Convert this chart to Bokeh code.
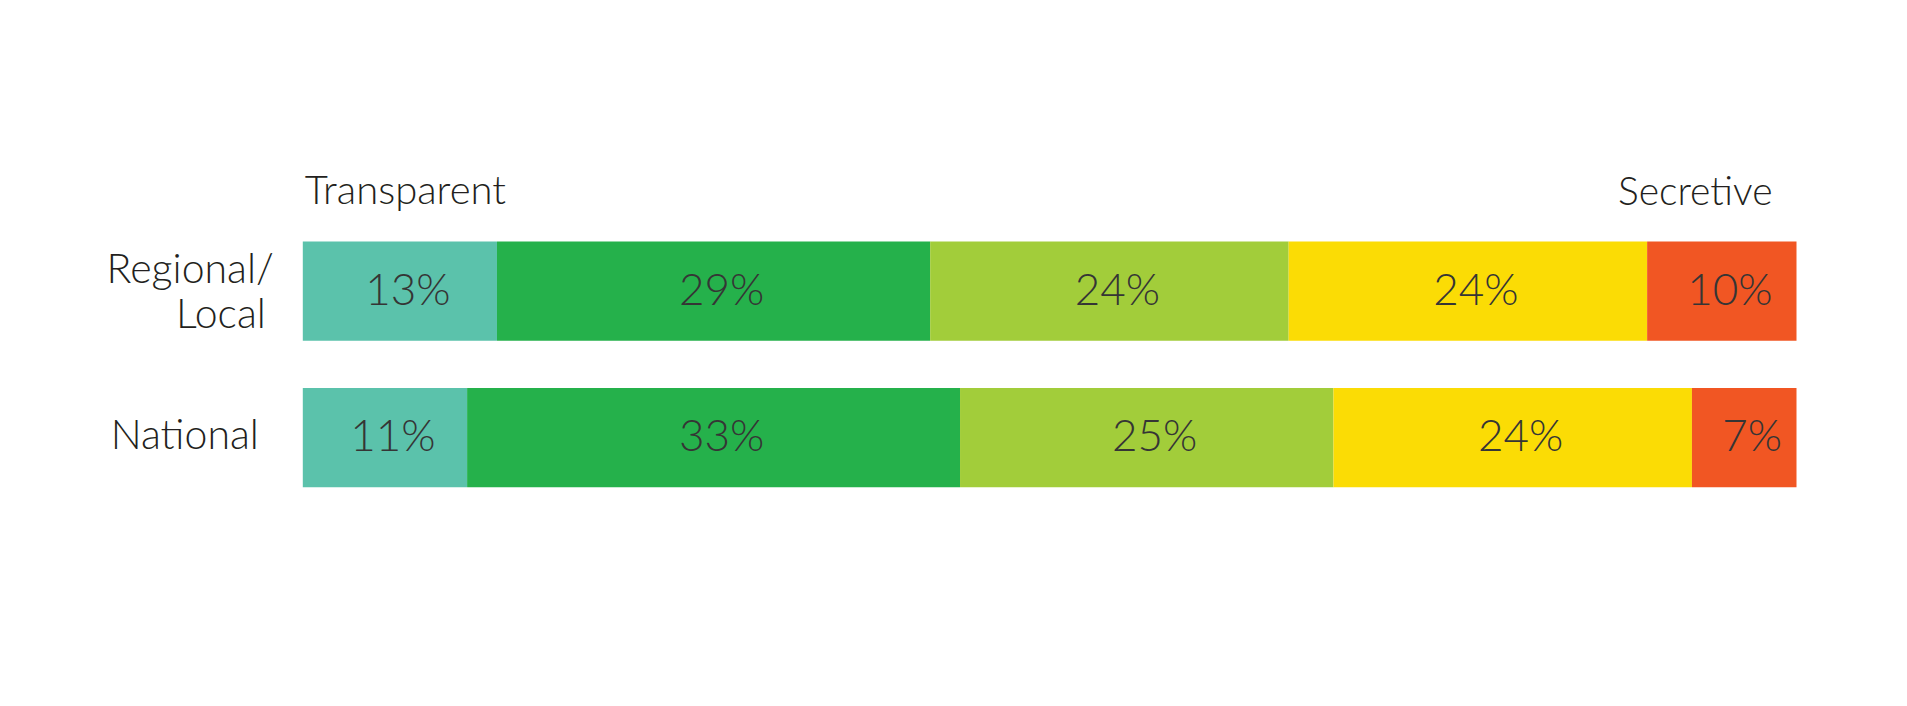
from bokeh.plotting import figure
from bokeh.models import ColumnDataSource, Range1d
from bokeh.core.properties import value
from bokeh.embed import file_html
from bokeh.resources import INLINE

# ---- data ----
groups = ["Regional/Local", "National"]
group_label_lines = [["Regional/", "Local"], ["National"]]
series_names = ["Transparent", "Mostly transparent", "Mixed", "Mostly secretive", "Secretive"]
series_colors = ["#5BC2AB", "#25B14B", "#A2CD3A", "#FBDC05", "#F15623"]
regional_values = [13, 29, 24, 24, 10]
national_values = [11, 33, 25, 24, 7]
scale_left_label = "Transparent"
scale_right_label = "Secretive"

# ---- styling / layout ----
FONT = value("Lato Light, Lato, sans-serif")
W, H = 1899, 698
BAR_LEFT_PX = 302.3
PX_PER_UNIT = 14.937
X0 = -BAR_LEFT_PX / PX_PER_UNIT
ROW0_PX = 290.7
ROW_PX = 146.5
Y_TOP = -ROW0_PX / ROW_PX
BAR_H = 99.3 / ROW_PX

p = figure(width=W, height=H, output_backend="svg", toolbar_location=None,
           x_range=Range1d(X0, X0 + W / PX_PER_UNIT),
           y_range=Range1d(Y_TOP + H / ROW_PX, Y_TOP),
           min_border=0, x_axis_location=None, y_axis_location=None)
p.outline_line_color = None
p.grid.visible = False
p.background_fill_color = "white"
p.border_fill_color = "white"

rows = [regional_values, national_values]

for si in range(len(series_names)):
    ys, lefts, rights, texts, mids = [], [], [], [], []
    for ri, vals in enumerate(rows):
        left = sum(vals[:si])
        right = left + vals[si]
        ys.append(ri)
        lefts.append(left)
        rights.append(right)
        mids.append((left + right) / 2)
        texts.append(f"{vals[si]}%")
    src = ColumnDataSource(dict(y=ys, left=lefts, right=rights, mid=mids, text=texts))
    p.hbar(y="y", left="left", right="right", height=BAR_H, source=src,
           fill_color=series_colors[si], line_color=None)
    p.text(x="mid", y="y", text="text", source=src, text_font=FONT,
           text_font_size="44px", text_color="#353535", text_align="center",
           text_baseline="alphabetic", x_offset=8, y_offset=-3.5)

# group labels
CAT_SIZE = "41px"
p.text(x=[0], y=[0], text=[group_label_lines[0][0]], text_font=FONT, text_font_size=CAT_SIZE,
       text_color="#231F20", text_align="right", text_baseline="alphabetic",
       x_offset=-29, y_offset=-24)
p.text(x=[0], y=[0], text=[group_label_lines[0][1]], text_font=FONT, text_font_size=CAT_SIZE,
       text_color="#231F20", text_align="right", text_baseline="alphabetic",
       x_offset=-37, y_offset=21)
p.text(x=[0], y=[1], text=[group_label_lines[1][0]], text_font=FONT, text_font_size=CAT_SIZE,
       text_color="#231F20", text_align="center", text_baseline="alphabetic",
       x_offset=-118, y_offset=-4)

# scale end labels
p.text(x=[0], y=[0], text=[scale_left_label], text_font=FONT, text_font_size="40px",
       text_color="#231F20", text_align="left", text_baseline="alphabetic",
       x_offset=2, y_offset=-102)
p.text(x=[100], y=[0], text=[scale_right_label], text_font=FONT, text_font_size="39px",
       text_color="#231F20", text_align="right", text_baseline="alphabetic",
       x_offset=-24, y_offset=-101)

open("out.html", "w").write(file_html(p, INLINE))
